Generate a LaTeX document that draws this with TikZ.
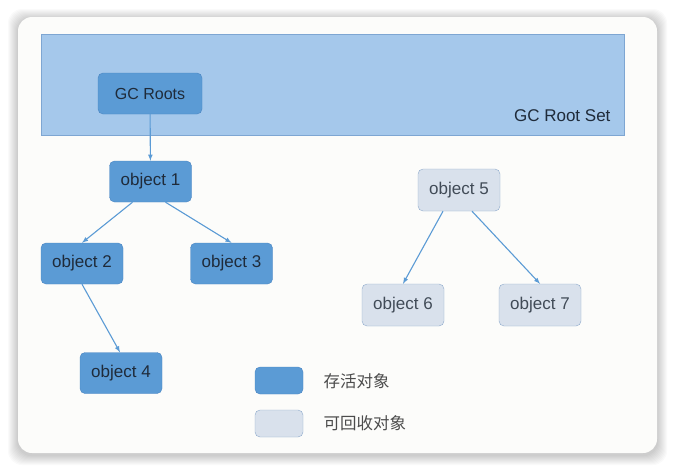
\documentclass[tikz,border=0pt]{standalone}
\usepackage{fontspec}
\setmainfont{Liberation Sans}
\newfontfamily\cjk{Noto Sans CJK SC}
\definecolor{livefill}{HTML}{5B9BD5}
\definecolor{livedraw}{HTML}{4A85C2}
\definecolor{deadfill}{HTML}{D9E1EC}
\definecolor{deaddraw}{HTML}{8EAACB}
\definecolor{rootfill}{HTML}{A5C8EB}
\definecolor{rootdraw}{HTML}{7EA6D2}
\definecolor{linkcol}{HTML}{5B9BD5}
\definecolor{textcol}{HTML}{1F2B3A}
\definecolor{cardcol}{HTML}{FCFCFA}
\begin{document}
\begin{tikzpicture}[x=1pt,y=-1pt,
    live/.style={draw=livedraw,fill=livefill,rounded corners=5pt,minimum width=82pt,minimum height=41pt,text=textcol,font=\fontsize{17}{19}\selectfont},
    dead/.style={draw=deaddraw,fill=deadfill,rounded corners=5pt,minimum width=82pt,minimum height=42pt,text=textcol!85,font=\fontsize{17}{19}\selectfont},
    link/.style={draw=linkcol,line width=1.1pt,-latex}]
  \useasboundingbox (0,0) rectangle (676,472);
  \fill[white] (0,0) rectangle (676,472);
  % soft shadow of the card
  \foreach \s in {1,...,10}
    \fill[black,opacity=0.018,rounded corners=14pt] (18-\s,17-\s+2) rectangle (657+\s,453+\s+2);
  \fill[cardcol,rounded corners=14pt] (18,17) rectangle (657,453);

  % root set
  \draw[rootdraw,fill=rootfill] (41,34) rectangle (624,135);
  \node[anchor=east,text=textcol,font=\fontsize{17}{19}\selectfont] (rootset) at (614,116) {GC Root Set};
  \node[live,minimum width=104pt,font=\fontsize{16}{18}\selectfont] (roots) at (150,93.5) {GC Roots};

  % live objects
  \node[live] (obj1) at (150.5,181.5) {object 1};
  \node[live] (obj2) at (82,263.5) {object 2};
  \node[live] (obj3) at (231.5,263.5) {object 3};
  \node[live] (obj4) at (121,373) {object 4};

  % garbage objects
  \node[dead] (obj5) at (459,190) {object 5};
  \node[dead] (obj6) at (403,305) {object 6};
  \node[dead] (obj7) at (540,305) {object 7};

  \draw[link] (roots) -- (obj1);
  \draw[link] ([xshift=-18pt]obj1.south) -- (obj2.north);
  \draw[link] ([xshift=15pt]obj1.south) -- (obj3.north);
  \draw[link] (obj2.south) -- ([xshift=-1pt]obj4.north);
  \draw[link] ([xshift=-16pt]obj5.south) -- (obj6.north);
  \draw[link] ([xshift=13pt]obj5.south) -- (obj7.north);

  % legend
  \node[live,minimum width=48pt,minimum height=27pt] (keylive) at (279,380.5) {};
  \node[dead,minimum width=48pt,minimum height=27pt] (keydead) at (279,423.5) {};
  \node[anchor=west,text=black!70,font=\cjk\fontsize{16.5}{18}\selectfont] (txtlive) at (320,381) {存活对象};
  \node[anchor=west,text=black!70,font=\cjk\fontsize{16.5}{18}\selectfont] (txtdead) at (320,423.5) {可回收对象};
\end{tikzpicture}
\end{document}
